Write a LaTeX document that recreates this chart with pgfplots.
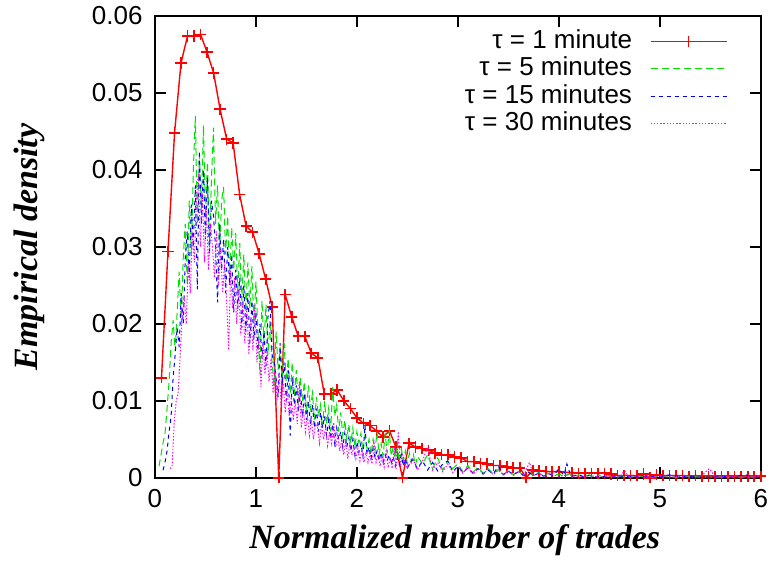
\documentclass[border=0pt]{standalone}
\usepackage{fontspec}
\setmainfont{Liberation Sans}
\newfontfamily\labelfont{Liberation Serif}
\usepackage{pgfplots}
\pgfplotsset{compat=1.18}

\definecolor{gpred}{RGB}{255,0,0}
\definecolor{gpgreen}{RGB}{0,225,0}
\definecolor{gpblue}{RGB}{0,0,255}
\definecolor{gpmagenta}{RGB}{255,0,255}

% legend sample: line with a "+" in its middle
\pgfplotsset{cross legend/.style={legend image code/.code={%
  \draw[##1] (0pt,0pt) -- (38pt,0pt) (16.2pt,0pt) -- (21.8pt,0pt) (19pt,-2.8pt) -- (19pt,2.8pt);}}}

\begin{document}
\begin{tikzpicture}
\path (-77.5pt,-43.5pt) rectangle (309pt,239pt);
\begin{axis}[
  at={(0pt,0pt)}, anchor=south west,
  scale only axis, width=303pt, height=231pt,
  xmin=0, xmax=6, ymin=0, ymax=0.06,
  clip=false,
  scaled y ticks=false, scaled x ticks=false,
  xtick={0,1,2,3,4,5,6}, xticklabels={0,1,2,3,4,5,6},
  ytick={0,0.01,0.02,0.03,0.04,0.05,0.06},
  yticklabels={0,0.01,0.02,0.03,0.04,0.05,0.06},
  tick pos=both, tick align=inside,
  major tick length=5.5pt,
  every tick/.style={black, line width=0.9pt},
  axis line style={line width=0.9pt},
  ticklabel style={font=\fontsize{13}{15}\selectfont, inner sep=0pt},
  xticklabel style={anchor=base, yshift=-15pt},
  yticklabel style={anchor=east, xshift=-6pt},
  xlabel={Normalized number of trades},
  ylabel={Empirical density},
  label style={font=\labelfont\bfseries\itshape\fontsize{17}{20}\selectfont},
  xlabel style={at={(axis description cs:0.495,-0.1537)}, anchor=base},
  ylabel style={at={(axis description cs:-0.1931,0.5)}, anchor=base},
  legend image code/.code={\draw[#1] (0pt,0pt) -- (38pt,0pt);},
  legend plot pos=right,
  legend cell align=right,
  legend style={at={(axis description cs:1,1)}, anchor=north east, xshift=-16.5pt, yshift=-5.9pt,
    draw=none, fill=none, inner sep=0pt, column sep=8pt, row sep=0pt,
    font=\fontsize{13}{15}\selectfont,
    nodes={inner sep=1pt, text height=9.3pt, text depth=2.3pt}},
]

% tau = 1 minute: line with "+" point symbols (crosses of half-size 2.8pt)
\addplot[draw=gpred, line width=0.7pt, cross legend,
  error bars/.cd, x dir=both, x fixed=0.05545, y dir=both, y fixed=0.000727,
  error mark=none, error bar style={draw=gpred, line width=0.8pt, solid}] table {
0.065 0.0130
0.129 0.0294
0.194 0.0448
0.258 0.0539
0.323 0.0574
0.387 0.0574
0.452 0.0576
0.516 0.0553
0.581 0.0526
0.645 0.0479
0.710 0.0440
0.774 0.0435
0.839 0.0368
0.903 0.0327
0.968 0.0319
1.032 0.0291
1.097 0.0258
1.161 0.0222
1.226 0.0000
1.290 0.0238
1.355 0.0209
1.419 0.0184
1.484 0.0184
1.548 0.0162
1.613 0.0156
1.677 0.0109
1.742 0.0109
1.806 0.0114
1.871 0.0100
1.935 0.0090
2.000 0.0078
2.065 0.0071
2.129 0.0068
2.194 0.0061
2.258 0.0053
2.323 0.0061
2.387 0.0040
2.452 0.0000
2.516 0.0045
2.581 0.0040
2.645 0.0038
2.710 0.0036
2.774 0.0032
2.839 0.0030
2.903 0.0030
2.968 0.0027
3.032 0.0026
3.097 0.0021
3.161 0.0021
3.226 0.0019
3.290 0.0018
3.355 0.0016
3.419 0.0016
3.484 0.0014
3.548 0.0013
3.613 0.0013
3.677 0.0000
3.742 0.0010
3.806 0.0009
3.871 0.0008
3.935 0.0008
4.000 0.0008
4.065 0.0007
4.129 0.0007
4.194 0.0006
4.258 0.0006
4.323 0.0006
4.387 0.0006
4.452 0.0006
4.516 0.0005
4.581 0.0003
4.645 0.0003
4.710 0.0003
4.774 0.0003
4.839 0.0005
4.903 0.0000
4.968 0.0004
5.032 0.0003
5.097 0.0003
5.161 0.0003
5.226 0.0003
5.290 0.0002
5.355 0.0003
5.419 0.0002
5.484 0.0002
5.548 0.0002
5.613 0.0002
5.677 0.0002
5.742 0.0002
5.806 0.0002
5.871 0.0002
5.935 0.0002
6.000 0.0002
};
\addlegendentry{τ = 1 minute}

% tau = 5 minutes
\addplot[draw=gpgreen, line width=0.5pt, dash pattern=on 3.5pt off 2pt] table {
0.04 0.0015
0.06 0.0030
0.08 0.0045
0.10 0.0058
0.12 0.0090
0.14 0.0125
0.16 0.0175
0.18 0.0205
0.20 0.0165
0.22 0.0215
0.24 0.0268
0.26 0.0200
0.28 0.0285
0.30 0.0330
0.32 0.0250
0.34 0.0360
0.36 0.0290
0.38 0.0400
0.40 0.0470
0.42 0.0330
0.44 0.0420
0.46 0.0350
0.48 0.0458
0.50 0.0340
0.52 0.0410
0.54 0.0300
0.56 0.0390
0.58 0.0455
0.60 0.0330
0.62 0.0380
0.64 0.0290
0.66 0.0360
0.68 0.0378
0.70 0.0290
0.72 0.0340
0.74 0.0260
0.76 0.0325
0.78 0.0270
0.80 0.0318
0.82 0.0240
0.84 0.0305
0.86 0.0230
0.88 0.0290
0.90 0.0215
0.92 0.0280
0.94 0.0220
0.96 0.0275
0.98 0.0200
1.00 0.0255
1.02 0.0190
1.04 0.0135
1.06 0.0230
1.08 0.0175
1.10 0.0225
1.12 0.0160
1.14 0.0205
1.16 0.0150
1.18 0.0120
1.20 0.0190
1.22 0.0140
1.24 0.0170
1.26 0.0130
1.28 0.0175
1.30 0.0125
1.32 0.0155
1.34 0.0110
1.36 0.0150
1.38 0.0105
1.40 0.0140
1.42 0.0095
1.44 0.0130
1.46 0.0100
1.48 0.0125
1.50 0.0085
1.52 0.0120
1.54 0.0090
1.56 0.0110
1.58 0.0075
1.60 0.0105
1.62 0.0080
1.64 0.0095
1.66 0.0065
1.68 0.0100
1.70 0.0070
1.72 0.0090
1.74 0.0060
1.76 0.0118
1.78 0.0080
1.80 0.0095
1.82 0.0060
1.84 0.0085
1.86 0.0055
1.88 0.0075
1.90 0.0050
1.92 0.0070
1.94 0.0045
1.96 0.0065
1.98 0.0040
2.00 0.0060
2.02 0.0045
2.04 0.0058
2.06 0.0035
2.08 0.0055
2.10 0.0038
2.12 0.0050
2.14 0.0030
2.16 0.0050
2.18 0.0035
2.20 0.0060
2.22 0.0030
2.24 0.0045
2.26 0.0028
2.28 0.0058
2.30 0.0032
2.32 0.0062
2.34 0.0028
2.36 0.0040
2.38 0.0025
2.40 0.0045
2.42 0.0020
2.44 0.0038
2.46 0.0022
2.48 0.0035
2.50 0.0018
2.52 0.0032
2.54 0.0020
2.56 0.0030
2.58 0.0016
2.60 0.0028
2.65 0.0018
2.70 0.0030
2.75 0.0012
2.80 0.0026
2.85 0.0010
2.90 0.0022
2.95 0.0012
3.00 0.0018
3.05 0.0008
3.10 0.0016
3.15 0.0007
3.20 0.0014
3.25 0.0006
3.30 0.0012
3.35 0.0005
3.40 0.0011
3.45 0.0004
3.50 0.0010
3.55 0.0004
3.60 0.0009
3.65 0.0003
3.70 0.0008
3.75 0.0003
3.80 0.0007
3.85 0.0002
3.90 0.0006
3.95 0.0003
4.00 0.0005
4.05 0.0002
4.10 0.0005
4.15 0.0002
4.20 0.0004
4.25 0.0001
4.30 0.0004
4.35 0.0001
4.40 0.0003
4.45 0.0001
4.50 0.0003
4.55 0.0001
4.60 0.0002
4.70 0.0001
4.80 0.0002
4.90 0.0001
5.00 0.0002
5.10 0.0001
5.20 0.0001
5.30 0.0002
5.40 0.0001
5.50 0.0001
5.60 0.0001
5.70 0.0001
5.80 0.0001
5.90 0.0001
6.00 0.0001
};
\addlegendentry{τ = 5 minutes}

% tau = 15 minutes
\addplot[draw=gpblue, line width=0.5pt, dash pattern=on 2pt off 2pt] table {
0.08 0.0010
0.10 0.0020
0.12 0.0035
0.14 0.0060
0.16 0.0080
0.18 0.0130
0.20 0.0160
0.22 0.0195
0.24 0.0170
0.26 0.0240
0.28 0.0200
0.30 0.0285
0.32 0.0320
0.34 0.0260
0.36 0.0355
0.38 0.0300
0.40 0.0380
0.42 0.0245
0.44 0.0425
0.46 0.0330
0.48 0.0400
0.50 0.0310
0.52 0.0390
0.54 0.0290
0.56 0.0360
0.58 0.0340
0.60 0.0300
0.62 0.0228
0.64 0.0330
0.66 0.0270
0.68 0.0310
0.70 0.0240
0.72 0.0300
0.74 0.0250
0.76 0.0290
0.78 0.0215
0.80 0.0270
0.82 0.0220
0.84 0.0260
0.86 0.0195
0.88 0.0250
0.90 0.0190
0.92 0.0240
0.94 0.0175
0.96 0.0230
0.98 0.0180
1.00 0.0215
1.02 0.0165
1.04 0.0200
1.06 0.0155
1.08 0.0190
1.10 0.0145
1.12 0.0210
1.14 0.0230
1.16 0.0160
1.18 0.0150
1.20 0.0130
1.22 0.0105
1.24 0.0175
1.26 0.0120
1.28 0.0150
1.30 0.0100
1.32 0.0140
1.34 0.0055
1.36 0.0130
1.38 0.0095
1.40 0.0120
1.42 0.0085
1.44 0.0115
1.46 0.0080
1.48 0.0110
1.50 0.0075
1.52 0.0100
1.54 0.0070
1.56 0.0095
1.58 0.0065
1.60 0.0090
1.62 0.0060
1.64 0.0085
1.66 0.0065
1.68 0.0080
1.70 0.0055
1.72 0.0075
1.74 0.0050
1.76 0.0070
1.78 0.0045
1.80 0.0065
1.82 0.0050
1.84 0.0060
1.86 0.0040
1.88 0.0058
1.90 0.0040
1.92 0.0052
1.94 0.0035
1.96 0.0050
1.98 0.0030
2.00 0.0047
2.02 0.0033
2.04 0.0045
2.06 0.0028
2.08 0.0068
2.10 0.0030
2.12 0.0040
2.14 0.0025
2.16 0.0038
2.18 0.0026
2.20 0.0035
2.22 0.0022
2.24 0.0033
2.26 0.0020
2.28 0.0030
2.30 0.0022
2.32 0.0030
2.34 0.0018
2.36 0.0028
2.38 0.0015
2.40 0.0026
2.42 0.0017
2.44 0.0030
2.46 0.0015
2.48 0.0025
2.50 0.0013
2.55 0.0024
2.60 0.0012
2.65 0.0022
2.70 0.0010
2.75 0.0020
2.80 0.0009
2.85 0.0018
2.90 0.0022
2.95 0.0008
3.00 0.0015
3.05 0.0007
3.10 0.0013
3.15 0.0006
3.20 0.0012
3.25 0.0005
3.30 0.0010
3.35 0.0005
3.40 0.0015
3.45 0.0004
3.50 0.0009
3.55 0.0004
3.60 0.0008
3.65 0.0003
3.70 0.0007
3.75 0.0003
3.80 0.0006
3.85 0.0002
3.90 0.0005
3.95 0.0003
4.00 0.0012
4.05 0.0003
4.08 0.0018
4.12 0.0002
4.20 0.0004
4.25 0.0001
4.30 0.0003
4.40 0.0001
4.50 0.0003
4.60 0.0001
4.70 0.0002
4.80 0.0001
4.90 0.0002
5.00 0.0001
5.10 0.0004
5.20 0.0001
5.30 0.0002
5.40 0.0001
5.50 0.0001
5.60 0.0002
5.70 0.0001
5.85 0.0004
5.90 0.0001
6.00 0.0001
};
\addlegendentry{τ = 15 minutes}

% tau = 30 minutes
\addplot[draw=gpmagenta, line width=0.5pt, dash pattern=on 0.7pt off 0.9pt] table {
0.15 0.0012
0.17 0.0015
0.19 0.0070
0.21 0.0100
0.23 0.0110
0.25 0.0160
0.27 0.0210
0.29 0.0235
0.31 0.0200
0.33 0.0280
0.35 0.0240
0.37 0.0320
0.39 0.0280
0.41 0.0360
0.43 0.0395
0.45 0.0300
0.47 0.0370
0.49 0.0280
0.51 0.0350
0.53 0.0270
0.55 0.0330
0.57 0.0300
0.59 0.0260
0.61 0.0320
0.63 0.0250
0.65 0.0300
0.67 0.0240
0.69 0.0280
0.71 0.0230
0.73 0.0166
0.75 0.0270
0.77 0.0220
0.79 0.0260
0.81 0.0200
0.83 0.0245
0.85 0.0185
0.87 0.0230
0.89 0.0175
0.91 0.0220
0.93 0.0160
0.95 0.0210
0.97 0.0165
0.99 0.0225
1.01 0.0150
1.03 0.0180
1.05 0.0118
1.07 0.0175
1.09 0.0135
1.11 0.0165
1.13 0.0125
1.15 0.0155
1.17 0.0110
1.19 0.0145
1.21 0.0100
1.23 0.0135
1.25 0.0095
1.27 0.0125
1.29 0.0085
1.31 0.0115
1.33 0.0080
1.35 0.0105
1.37 0.0075
1.39 0.0100
1.41 0.0070
1.43 0.0125
1.45 0.0065
1.47 0.0090
1.49 0.0060
1.51 0.0080
1.53 0.0055
1.55 0.0075
1.57 0.0050
1.59 0.0070
1.61 0.0065
1.63 0.0045
1.65 0.0070
1.67 0.0050
1.69 0.0065
1.71 0.0042
1.73 0.0060
1.75 0.0045
1.77 0.0072
1.79 0.0040
1.81 0.0055
1.83 0.0035
1.85 0.0050
1.87 0.0030
1.89 0.0048
1.91 0.0025
1.93 0.0045
1.95 0.0030
1.97 0.0040
1.99 0.0025
2.01 0.0038
2.03 0.0022
2.05 0.0036
2.07 0.0020
2.09 0.0034
2.11 0.0020
2.13 0.0032
2.15 0.0018
2.17 0.0045
2.19 0.0020
2.21 0.0030
2.23 0.0015
2.25 0.0028
2.27 0.0014
2.29 0.0035
2.31 0.0013
2.33 0.0025
2.35 0.0012
2.37 0.0040
2.39 0.0012
2.41 0.0060
2.43 0.0015
2.45 0.0030
2.50 0.0012
2.55 0.0026
2.60 0.0010
2.65 0.0022
2.70 0.0040
2.75 0.0010
2.80 0.0020
2.85 0.0008
2.90 0.0018
2.95 0.0007
3.00 0.0015
3.05 0.0006
3.10 0.0014
3.15 0.0005
3.20 0.0012
3.25 0.0005
3.30 0.0011
3.35 0.0004
3.40 0.0010
3.45 0.0004
3.50 0.0009
3.55 0.0003
3.60 0.0008
3.65 0.0003
3.71 0.0020
3.75 0.0003
3.80 0.0006
3.85 0.0002
3.90 0.0005
4.00 0.0002
4.10 0.0004
4.20 0.0001
4.30 0.0003
4.40 0.0001
4.50 0.0002
4.60 0.0001
4.65 0.0009
4.70 0.0001
4.80 0.0002
4.90 0.0001
5.00 0.0002
5.10 0.0001
5.20 0.0002
5.30 0.0001
5.40 0.0001
5.49 0.0012
5.55 0.0001
5.70 0.0002
5.80 0.0001
5.90 0.0002
6.00 0.0001
};
\addlegendentry{τ = 30 minutes}

\end{axis}
\end{tikzpicture}
\end{document}
